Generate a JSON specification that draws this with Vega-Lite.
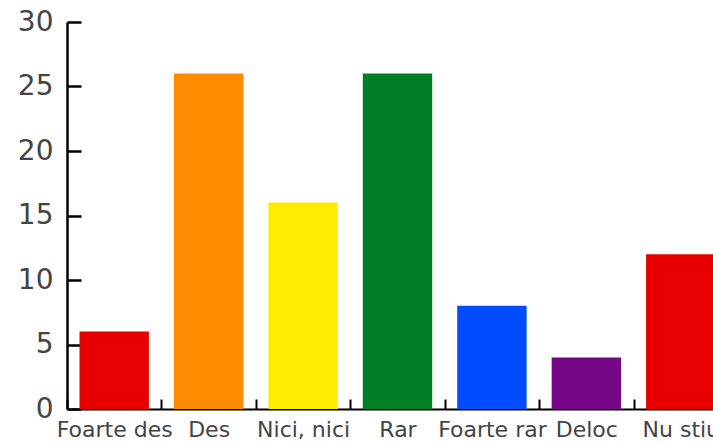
{
  "$schema": "https://vega.github.io/schema/vega-lite/v6.json",
  "width": 646,
  "height": 387,
  "padding": {"left": 67, "top": 22, "right": 0, "bottom": 33},
  "autosize": {"type": "none"},
  "background": "white",
  "config": {"view": {"stroke": null}},
  "data": {"values": [
    {"cat": "Foarte des", "value": 6},
    {"cat": "Des", "value": 26},
    {"cat": "Nici, nici", "value": 16},
    {"cat": "Rar", "value": 26},
    {"cat": "Foarte rar", "value": 8},
    {"cat": "Deloc", "value": 4},
    {"cat": "Nu stiu", "value": 12}
  ]},
  "mark": {"type": "bar", "width": {"band": 0.735}},
  "encoding": {
    "x": {
      "field": "cat", "type": "nominal", "sort": null,
      "scale": {"paddingInner": 0, "paddingOuter": 0, "range": [0, 661]},
      "axis": {
        "title": null, "labelAngle": 0, "tickBand": "extent",
        "tickSize": -10, "tickWidth": 2, "tickColor": "black",
        "domainColor": "black", "domainWidth": 2,
        "labelFont": "DejaVu Sans", "labelFontSize": 22, "labelColor": "#444",
        "labelPadding": 20, "labelOverlap": false, "labelLimit": 0
      }
    },
    "y": {
      "field": "value", "type": "quantitative",
      "scale": {"domain": [0, 30], "nice": false},
      "axis": {
        "title": null, "values": [0, 5, 10, 15, 20, 25, 30], "grid": false,
        "tickSize": -14, "tickWidth": 2.5, "tickColor": "black",
        "domainColor": "black", "domainWidth": 2.5,
        "labelFont": "DejaVu Sans", "labelFontSize": 28, "labelColor": "#444",
        "labelPadding": 28
      }
    },
    "color": {
      "field": "cat", "type": "nominal", "legend": null,
      "scale": {
        "domain": ["Foarte des", "Des", "Nici, nici", "Rar", "Foarte rar", "Deloc", "Nu stiu"],
        "range": ["#e60000", "#ff8c00", "#ffed00", "#008026", "#004dff", "#750787", "#e60000"]
      }
    }
  }
}
